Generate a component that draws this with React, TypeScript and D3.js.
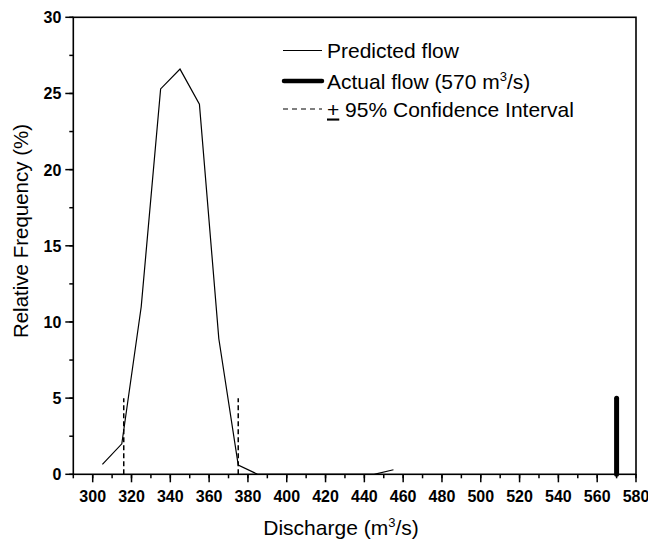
import React from "react";
import * as d3 from "d3";

const discharge = [305, 315, 325, 335, 345, 355, 365, 375, 385, 395, 405, 415, 425, 435, 445, 455];
const relFreq = [0.65, 2.0, 11.0, 25.3, 26.6, 24.3, 8.9, 0.6, 0, 0, 0, 0, 0, 0, 0, 0.3];
const ciBounds = [316, 375];
const ciHeight = 5;
const actualFlow = 570;
const actualHeight = 5;
const xTicks = d3.range(300, 581, 20);
const xMinor = d3.range(290, 581, 10);
const yTicks = [0, 5, 10, 15, 20, 25, 30];
const yMinor = d3.range(0, 30.1, 2.5);

const W = 648;
const H = 540;
const L = 73.3, R = 636, T = 17.3, B = 474.3;

export default function App() {
  const x = d3.scaleLinear().domain([290, 580]).range([L, R]);
  const y = d3.scaleLinear().domain([0, 30]).range([B, T]);
  const line = d3.line<number>().x((_, i) => x(discharge[i])).y((d) => y(d));
  const font = "Arial, 'Liberation Sans', Helvetica, sans-serif";
  return (
    <svg width={W} height={H} style={{ position: "absolute", left: 0, top: 0 }} fontFamily={font}>
      <rect x={0} y={0} width={W} height={H} fill="white" />
      {/* data */}
      <path d={line(relFreq) || ""} fill="none" stroke="black" strokeWidth={1.2} />
      {ciBounds.map((v) => (
        <line key={v} x1={x(v)} x2={x(v)} y1={y(0)} y2={y(ciHeight)} stroke="black" strokeWidth={1.5} strokeDasharray="5,3" />
      ))}
      <line x1={x(actualFlow)} x2={x(actualFlow)} y1={y(0)} y2={y(actualHeight)} stroke="black" strokeWidth={5} strokeLinecap="round" />
      {/* frame */}
      <rect x={L} y={T} width={R - L} height={B - T} fill="none" stroke="black" strokeWidth={1.6} />
      {/* y ticks */}
      {yMinor.map((v) => (
        <line key={"ym" + v} x1={L} x2={L - 4} y1={y(v)} y2={y(v)} stroke="black" strokeWidth={1.5} />
      ))}
      {yTicks.map((v) => (
        <g key={"y" + v}>
          <line x1={L} x2={L - 8} y1={y(v)} y2={y(v)} stroke="black" strokeWidth={1.5} />
          <text x={L - 12} y={y(v) + 6} textAnchor="end" fontSize={16} fontWeight="bold">{v}</text>
        </g>
      ))}
      {/* x ticks */}
      {xMinor.map((v) => (
        <line key={"xm" + v} x1={x(v)} x2={x(v)} y1={B} y2={B + 4} stroke="black" strokeWidth={1.5} />
      ))}
      {xTicks.map((v) => (
        <g key={"x" + v}>
          <line x1={x(v)} x2={x(v)} y1={B} y2={B + 8} stroke="black" strokeWidth={1.5} />
          <text x={x(v)} y={B + 27.5} textAnchor="middle" fontSize={16} fontWeight="bold">{v}</text>
        </g>
      ))}
      {/* axis titles */}
      <text x={341} y={535} textAnchor="middle" fontSize={21}>
        Discharge (m<tspan dy={-8} fontSize={13}>3</tspan><tspan dy={8}>/s)</tspan>
      </text>
      <text transform={`translate(28,231) rotate(-90)`} textAnchor="middle" fontSize={20.5}>
        Relative Frequency (%)
      </text>
      {/* legend */}
      <line x1={283} x2={322} y1={50.5} y2={50.5} stroke="black" strokeWidth={1.2} />
      <text x={327} y={58} fontSize={21}>Predicted flow</text>
      <line x1={284} x2={322} y1={81} y2={81} stroke="black" strokeWidth={4.5} strokeLinecap="round" />
      <text x={327} y={88.5} fontSize={21}>
        Actual flow (570 m<tspan dy={-8} fontSize={13}>3</tspan><tspan dy={8}>/s)</tspan>
      </text>
      <line x1={283} x2={322} y1={109} y2={109} stroke="black" strokeWidth={1.2} strokeDasharray="5,4" />
      <text x={327} y={116.5} fontSize={21}>
        <tspan textDecoration="underline">+</tspan> 95% Confidence Interval
      </text>
    </svg>
  );
}
